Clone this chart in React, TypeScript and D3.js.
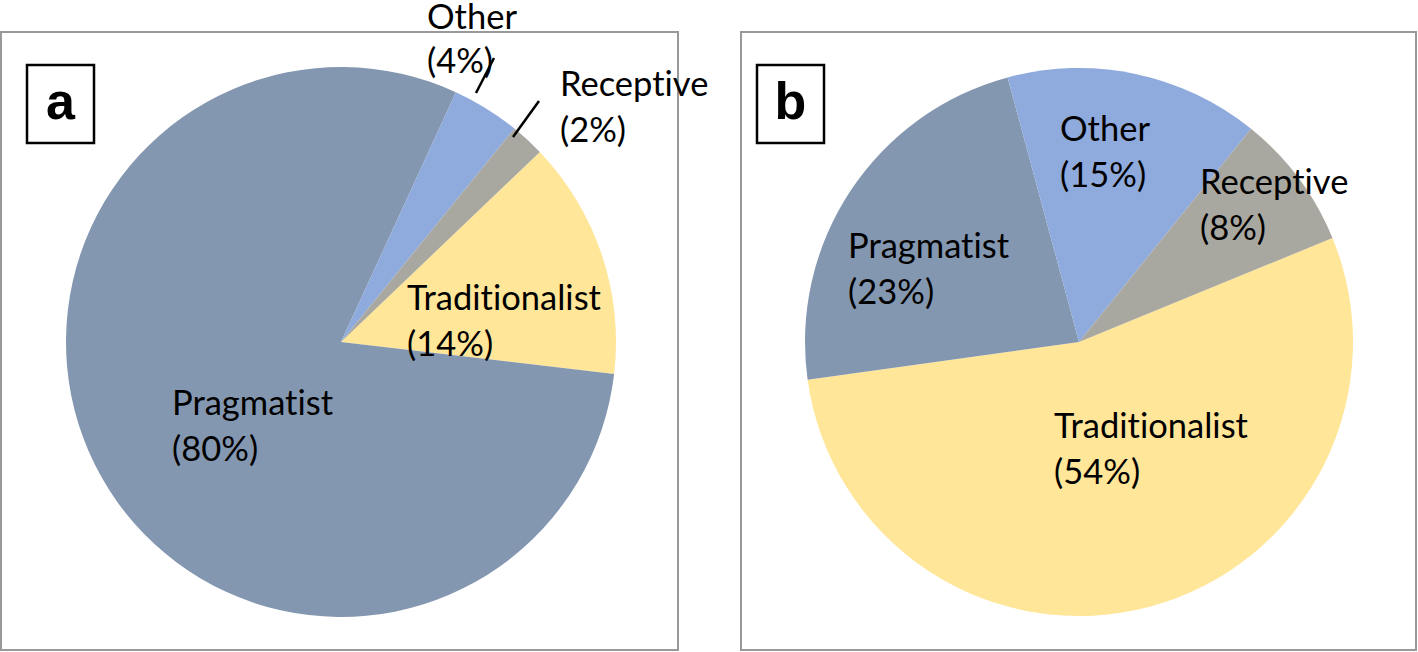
import React, { useRef, useEffect } from 'react';
import * as d3 from 'd3';

const categories = ['Traditionalist', 'Pragmatist', 'Other', 'Receptive'];
const valuesA = [14, 80, 4, 2];
const valuesB = [54, 23, 15, 8];
const colors = ['#FFE699', '#8497B0', '#8FAADC', '#A9A8A0'];

const W = 1418;
const H = 652;

export default function App() {
  const svgRef = useRef<SVGSVGElement>(null);

  useEffect(() => {
    const svg = d3.select(svgRef.current);
    svg.selectAll('*').remove();

    const panels = [
      {
        letter: 'a', values: valuesA, box: [1, 32, 677, 618], cx: 341, cy: 342, r: 275, start: 46.3,
        labels: [
          { x: 407, y: 310 }, { x: 172, y: 415 }, { x: 427, y: 29 }, { x: 560, y: 96 },
        ],
        leaders: [null, null, [476, 93, 494, 58], [513, 137, 539, 101]],
      },
      {
        letter: 'b', values: valuesB, box: [741, 32, 675, 618], cx: 1079, cy: 342, r: 274, start: 67.7,
        labels: [
          { x: 1054, y: 438 }, { x: 848, y: 258 }, { x: 1060, y: 141 }, { x: 1200, y: 194 },
        ],
        leaders: [null, null, null, null],
      },
    ];

    panels.forEach(p => {
      const g = svg.append('g');
      g.append('rect')
        .attr('x', p.box[0]).attr('y', p.box[1])
        .attr('width', p.box[2]).attr('height', p.box[3])
        .attr('fill', 'white').attr('stroke', '#999').attr('stroke-width', 2);

      const pie = d3.pie<number>().sort(null)
        .startAngle((p.start * Math.PI) / 180)
        .endAngle((p.start * Math.PI) / 180 + 2 * Math.PI);
      const arc = d3.arc<d3.PieArcDatum<number>>().innerRadius(0).outerRadius(p.r);

      g.append('g')
        .attr('transform', `translate(${p.cx},${p.cy})`)
        .selectAll('path')
        .data(pie(p.values))
        .join('path')
        .attr('d', arc)
        .attr('fill', (d, i) => colors[i])
        .attr('stroke', 'none');

      p.leaders.forEach(l => {
        if (!l) return;
        g.append('line')
          .attr('x1', l[0]).attr('y1', l[1]).attr('x2', l[2]).attr('y2', l[3])
          .attr('stroke', 'black').attr('stroke-width', 2.5);
      });

      p.labels.forEach((lab, i) => {
        const t = g.append('text')
          .attr('x', lab.x).attr('y', lab.y)
          .attr('font-family', 'Lato, sans-serif')
          .attr('font-size', 34.5)
          .style('font-variant-ligatures', 'none')
          .attr('fill', 'black');
        t.append('tspan').attr('x', lab.x).text(categories[i]);
        t.append('tspan').attr('x', lab.x).attr('dy', i === 2 && p.letter === 'a' ? 44 : 46).text(`(${p.values[i]}%)`);
      });

      const bx = p.letter === 'a' ? 27 : 757;
      g.append('rect')
        .attr('x', bx).attr('y', 65).attr('width', 67).attr('height', 78)
        .attr('fill', 'white').attr('stroke', 'black').attr('stroke-width', 2.5);
      g.append('text')
        .attr('x', bx + 33.5).attr('y', 119)
        .attr('text-anchor', 'middle')
        .attr('font-family', 'Liberation Sans, Arial, sans-serif')
        .attr('font-weight', 'bold')
        .attr('font-size', 52)
        .text(p.letter);
    });
  }, []);

  return (
    <svg
      ref={svgRef}
      width={W}
      height={H}
      style={{ position: 'absolute', left: 0, top: 0, display: 'block' }}
    />
  );
}
